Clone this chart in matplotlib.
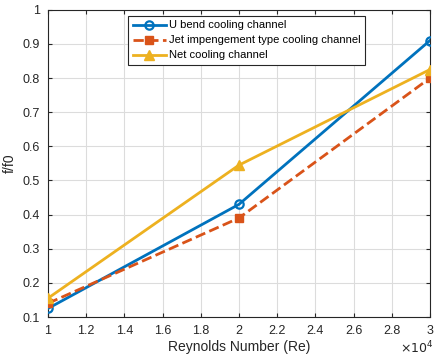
import matplotlib.pyplot as plt
from matplotlib.ticker import FuncFormatter, MultipleLocator

# data
re_numbers = [10000, 20000, 30000]
u_bend = [0.125, 0.43, 0.91]
jet_imp = [0.14, 0.39, 0.80]
net_channel = [0.155, 0.545, 0.825]
labels = ['U bend cooling channel', 'Jet impengement type cooling channel', 'Net cooling channel']

plt.rcParams['font.family'] = ['Liberation Sans', 'DejaVu Sans']

fig = plt.figure(figsize=(4.36, 3.58), dpi=100)
ax = fig.add_axes([0.110, 0.1145, 0.876, 0.858])

ax.plot(re_numbers, u_bend, '-o', color='#0072BD', lw=2, ms=6, mfc='none', mew=1.6, label=labels[0], zorder=3)
ax.plot(re_numbers, jet_imp, '--s', color='#D95319', lw=2, ms=5.5, mfc='#D95319', mew=1, label=labels[1], zorder=3)
ax.plot(re_numbers, net_channel, '-^', color='#EDB120', lw=2, ms=7, mfc='#EDB120', mew=1, label=labels[2], zorder=3)

ax.set_xlim(10000, 30000)
ax.set_ylim(0.1, 1.0)
ax.xaxis.set_major_locator(MultipleLocator(2000))
ax.yaxis.set_major_locator(MultipleLocator(0.1))
ax.xaxis.set_major_formatter(FuncFormatter(lambda v, p: f'{v / 1e4:g}'))
ax.yaxis.set_major_formatter(FuncFormatter(lambda v, p: f'{v:.1f}'.rstrip('0').rstrip('.') if v < 0.999 else '1'))

ax.grid(True, color='#dcdcdc', lw=0.8)
ax.set_axisbelow(True)
ax.tick_params(direction='in', top=True, right=True, length=3, labelsize=9, colors='#262626', pad=6)
for s in ax.spines.values():
    s.set_color('#262626')
    s.set_linewidth(0.8)

ax.set_xlabel('Reynolds Number (Re)', fontsize=10, color='#262626', labelpad=2)
ax.set_ylabel('f/f0', fontsize=10, color='#262626', labelpad=4)
fig.text(0.995, 0.028, r'$\times10^{4}$', fontsize=9, color='#262626', va='center', ha='right')

leg = ax.legend(loc='upper left', bbox_to_anchor=(0.21, 0.98), fontsize=8, frameon=True, fancybox=False,
                edgecolor='#262626', framealpha=1, handlelength=3.0, borderpad=0.4, labelspacing=0.45,
                handletextpad=0.3, borderaxespad=0)
leg.get_frame().set_linewidth(0.8)

fig.savefig('out.png', dpi=100)
